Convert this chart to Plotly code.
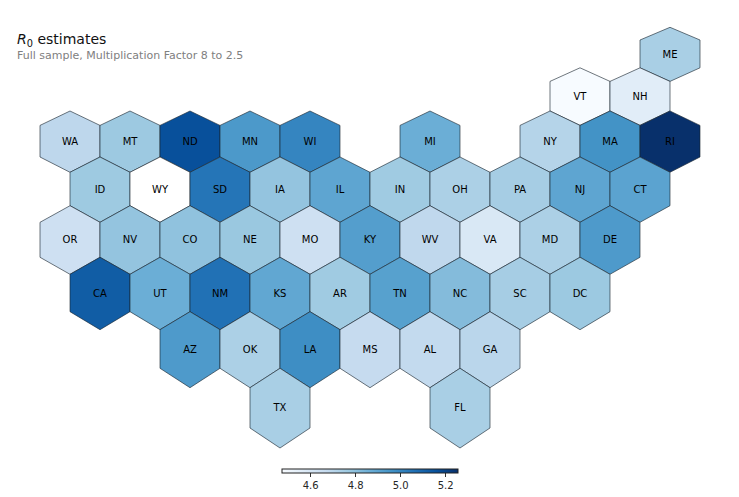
import plotly.graph_objects as go
from plotly.colors import sample_colorscale

# State, half-column position on the hex grid, row index, R0 estimate
row0 = ["ME"]
row1 = ["VT", "NH"]
row2 = ["WA", "MT", "ND", "MN", "WI", "MI", "NY", "MA", "RI"]
row3 = ["ID", "WY", "SD", "IA", "IL", "IN", "OH", "PA", "NJ", "CT"]
row4 = ["OR", "NV", "CO", "NE", "MO", "KY", "WV", "VA", "MD", "DE"]
row5 = ["CA", "UT", "NM", "KS", "AR", "TN", "NC", "SC", "DC"]
row6 = ["AZ", "OK", "LA", "MS", "AL", "GA"]
row7 = ["TX", "FL"]
rows = [row0, row1, row2, row3, row4, row5, row6, row7]

col0 = [22]
col1 = [19, 21]
col2 = [2, 4, 6, 8, 10, 14, 18, 20, 22]
col3 = [3, 5, 7, 9, 11, 13, 15, 17, 19, 21]
col4 = [2, 4, 6, 8, 10, 12, 14, 16, 18, 20]
col5 = [3, 5, 7, 9, 11, 13, 15, 17, 19]
col6 = [6, 8, 10, 12, 14, 16]
col7 = [9, 15]
cols = [col0, col1, col2, col3, col4, col5, col6, col7]

val0 = [4.74]
val1 = [4.474, 4.56]
val2 = [4.69, 4.77, 5.16, 4.94, 5.00, 4.865, 4.71, 4.96, 5.256]
val3 = [4.767, None, 5.05, 4.787, 4.896, 4.763, 4.732, 4.748, 4.896, 4.904]
val4 = [4.638, 4.787, 4.795, 4.775, 4.638, 4.92, 4.685, 4.591, 4.732, 4.935]
val5 = [5.123, 4.865, 5.06, 4.888, 4.763, 4.912, 4.818, 4.748, 4.771]
val6 = [4.935, 4.732, 4.975, 4.67, 4.677, 4.70]
val7 = [4.74, 4.74]
vals = [val0, val1, val2, val3, val4, val5, val6, val7]

# Projected latitude levels of the hexagon vertices (top, shoulder, shoulder, bottom; rows overlap)
lat_levels = [27.3, 40.0, 67.8, 81.4, 111.0, 125.4, 157.0, 172.3, 205.7, 222.3,
              257.3, 274.3, 311.7, 329.7, 368.3, 387.7, 428.0, 448.0]

VMIN, VMAX = 4.474, 5.256
SCALE = "Blues"
W, H = 739, 497


def colour(v):
    if v is None:
        return "#ffffff"
    return sample_colorscale(SCALE, [(v - VMIN) / (VMAX - VMIN)])[0]


fig = go.Figure()
tx, ty, tt, tv = [], [], [], []
for r, (names, cs, vs) in enumerate(zip(rows, cols, vals)):
    top, up, low, bot = lat_levels[2 * r:2 * r + 4]
    for name, c, v in zip(names, cs, vs):
        fig.add_trace(go.Scatter(
            x=[c, c + 1, c + 1, c, c - 1, c - 1, c],
            y=[top, up, low, bot, low, up, top],
            mode="lines", fill="toself", fillcolor=colour(v),
            line=dict(color="rgba(25,35,45,0.78)", width=0.8),
            hoverinfo="skip", showlegend=False,
        ))
        tx.append(c)
        ty.append((top + bot) / 2 + 0.8)
        tt.append(name)
        tv.append(VMIN if v is None else v)

fig.add_trace(go.Scatter(
    x=tx, y=ty, text=tt, mode="text+markers", textposition="middle center",
    textfont=dict(family="DejaVu Sans", size=10, color="#000000"),
    marker=dict(
        size=1, opacity=0, color=tv, colorscale=SCALE, cmin=VMIN, cmax=VMAX,
        colorbar=dict(
            orientation="h", lenmode="pixels", len=176, thicknessmode="pixels",
            thickness=4, x=370.3 / W, xanchor="center", y=1 - 469 / H, yanchor="top",
            xpad=0, ypad=0, outlinewidth=1, outlinecolor="#222222",
            ticks="outside", ticklen=4, tickwidth=0.8, tickcolor="#333333",
            tickvals=[4.6, 4.8, 5.0, 5.2], ticktext=["4.6", "4.8", "5.0", "5.2"],
            tickfont=dict(family="DejaVu Sans", size=10, color="#262626"),
        ),
    ),
    hoverinfo="text", showlegend=False,
))

fig.update_layout(
    width=W, height=H, margin=dict(l=0, r=0, t=0, b=0),
    paper_bgcolor="white", plot_bgcolor="white",
    xaxis=dict(visible=False, range=[-10 / 30, (W - 10) / 30], fixedrange=True),
    yaxis=dict(visible=False, range=[H, 0], fixedrange=True),
    annotations=[
        dict(text="<i>R</i><sub>0</sub> estimates", xref="paper", yref="paper",
             x=15 / W, y=1 - 40 / H, xanchor="left", yanchor="middle", showarrow=False,
             font=dict(family="DejaVu Sans", size=14, color="#111111")),
        dict(text="Full sample, Multiplication Factor 8 to 2.5", xref="paper", yref="paper",
             x=15 / W, y=1 - 55.5 / H, xanchor="left", yanchor="middle", showarrow=False,
             font=dict(family="DejaVu Sans", size=11, color="#808080")),
    ],
)
fig.write_html("out.html", post_script="document.body.style.margin='0';",
               config={"displayModeBar": False})
